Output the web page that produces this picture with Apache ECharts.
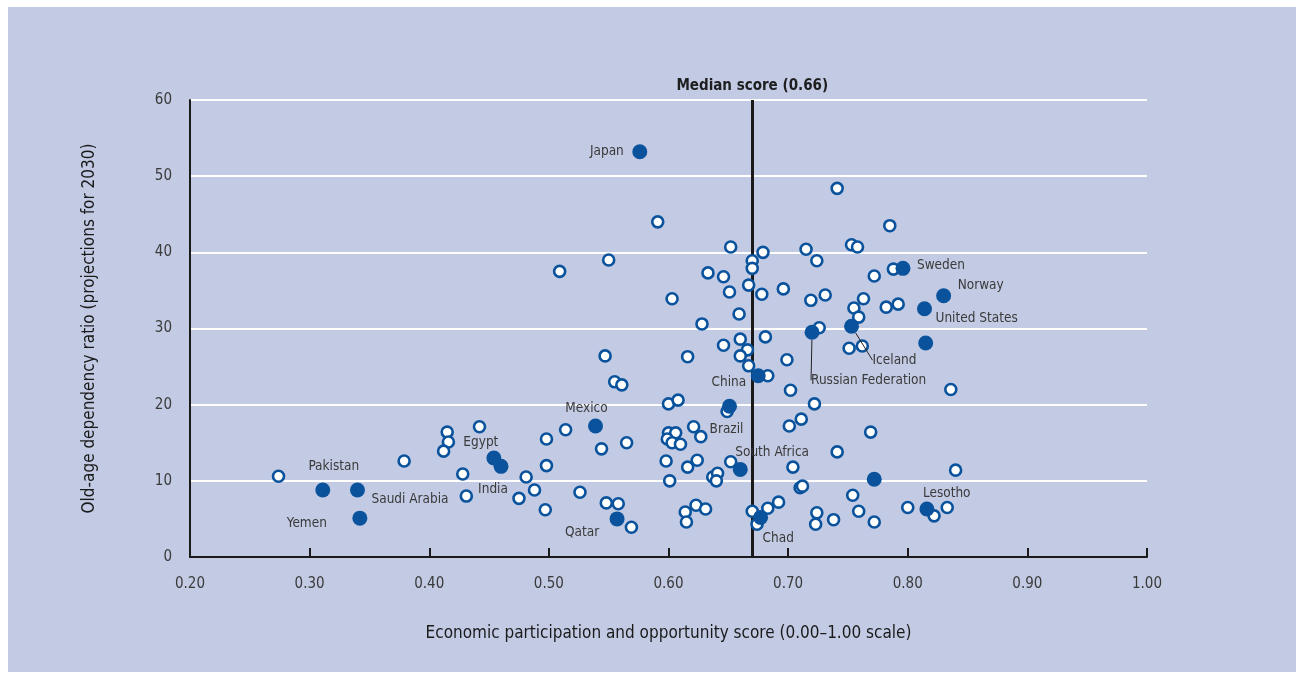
<!DOCTYPE html>
<html>
<head>
<meta charset="utf-8">
<script src="https://cdn.jsdelivr.net/npm/echarts@6/dist/echarts.min.js"></script>
<style>
html,body{margin:0;padding:0;background:#ffffff;}
#chart{width:1303px;height:673px;}
</style>
</head>
<body>
<div id="chart"></div>
<script>
// ---------- DATA ----------
const xTicks = [0.2, 0.3, 0.4, 0.5, 0.6, 0.7, 0.8, 0.9, 1.0];
const yTicks = [0, 10, 20, 30, 40, 50, 60];
const medianScore = 0.669;
const medianLabel = 'Median score (0.66)';
const xTitle = 'Economic participation and opportunity score (0.00\u20131.00 scale)';
const yTitle = 'Old-age dependency ratio (projections for 2030)';

// other countries (open circles): [score, ratio]
const otherX = [0.274,0.379,0.415,0.416,0.412,0.442,0.428,0.431,
  0.475,0.488,0.481,0.497,0.498,0.498,0.514,0.526,0.544,0.548,0.558,0.565,0.569,0.555,0.561,
  0.600,0.608,0.600,0.606,0.599,0.603,0.610,0.621,0.627,0.598,0.616,0.624,0.601,0.637,0.641,0.640,0.652,0.649,
  0.614,0.615,0.623,0.631,0.670,0.674,
  0.683,0.692,0.704,0.710,0.712,0.741,0.724,0.723,0.738,0.754,0.759,0.772,
  0.702,0.722,0.711,0.701,0.769,0.836,0.840,0.800,0.822,0.833,
  0.509,0.550,0.591,0.603,0.633,0.646,0.652,0.651,0.670,0.670,0.667,0.628,0.659,0.547,0.616,0.646,0.660,0.666,0.660,0.667,
  0.679,0.678,0.696,0.681,0.683,0.699,
  0.741,0.785,0.715,0.724,0.753,0.758,0.772,0.788,0.719,0.731,0.763,0.755,0.759,0.782,0.792,0.726,0.751,0.762];
const otherY = [10.6,12.6,16.4,15.1,13.9,17.1,10.9,8.0,
  7.7,8.8,10.5,6.2,12.0,15.5,16.7,8.5,14.2,7.1,7.0,15.0,3.9,23.0,22.6,
  20.1,20.6,16.3,16.3,15.5,15.0,14.8,17.1,15.8,12.6,11.8,12.7,10.0,10.5,11.0,10.0,12.5,19.1,
  5.9,4.6,6.8,6.3,6.0,4.3,
  6.4,7.2,11.8,9.1,9.3,13.8,5.8,4.3,4.9,8.1,6.0,4.6,
  21.9,20.1,18.1,17.2,16.4,22.0,11.4,6.5,5.4,6.5,
  37.5,39.0,44.0,33.9,37.3,36.8,40.7,34.8,38.9,37.9,35.7,30.6,31.9,26.4,26.3,27.8,28.6,27.2,26.4,25.1,
  40.0,34.5,35.2,28.9,23.8,25.9,
  48.4,43.5,40.4,38.9,41.0,40.7,36.9,37.8,33.7,34.4,33.9,32.7,31.5,32.8,33.2,30.1,27.4,27.7];

// highlighted countries (filled dots)
const hlNames = ['Japan','Sweden','Norway','United States','','Iceland','Russian Federation','China','Brazil','Mexico',
  'Egypt','India','Pakistan','Saudi Arabia','Yemen','Qatar','South Africa','Chad','Lesotho',''];
const hlX = [0.576,0.796,0.830,0.814,0.815,0.753,0.720,0.675,0.651,0.539,
  0.454,0.460,0.311,0.340,0.342,0.557,0.660,0.677,0.816,0.772];
const hlY = [53.2,37.9,34.3,32.6,28.1,30.3,29.5,23.8,19.8,17.2,
  13.0,11.9,8.8,8.8,5.1,5.0,11.5,5.2,6.3,10.2];

// ---------- STYLE ----------
const FONT = "'Liberation Sans Narrow','DejaVu Sans Condensed','Liberation Sans',sans-serif";
const BLUE = '#0a539c';
const TEXT = '#3a3a3a';
// label placement [dx, dy, align]
const labelPlace = {
  'Japan': [-16, 0, 'right'],
  'Sweden': [14, -3, 'left'],
  'Norway': [14, -10, 'left'],
  'United States': [11, 10, 'left'],
  'Iceland': [21, 34, 'left'],
  'Russian Federation': [-1, 48, 'left'],
  'China': [-12, 7, 'right'],
  'Brazil': [-3, 23, 'center'],
  'Mexico': [-9, -17, 'center'],
  'Egypt': [-13, -15, 'center'],
  'India': [-8, 23, 'center'],
  'Pakistan': [11, -23, 'center'],
  'Saudi Arabia': [14, 10, 'left'],
  'Yemen': [-33, 5, 'right'],
  'Qatar': [-35, 14, 'center'],
  'South Africa': [-5, -17, 'left'],
  'Chad': [2, 21, 'left'],
  'Lesotho': [-4, -16, 'left']
};
const leaderNames = ['Iceland', 'Russian Federation'];

const otherData = otherX.map((x, i) => [x, otherY[i]]);
const hlData = hlNames.map((n, i) => ({
  name: n,
  value: [hlX[i], hlY[i]],
  label: { show: n !== '' },
  labelLine: { show: leaderNames.includes(n), lineStyle: { color: '#222', width: 1 } }
}));

const chart = echarts.init(document.getElementById('chart'), null, { renderer: 'canvas' });
chart.setOption({
  backgroundColor: '#ffffff',
  animation: false,
  textStyle: { fontFamily: FONT },
  graphic: [{
    type: 'rect', z: -10, silent: true,
    shape: { x: 8, y: 7, width: 1288, height: 665 },
    style: { fill: '#c3cbe4' }
  }],
  grid: { left: 190, top: 100, right: 156, bottom: 116, containLabel: false },
  xAxis: {
    type: 'value', min: xTicks[0], max: xTicks[xTicks.length - 1], interval: 0.1,
    name: xTitle, nameLocation: 'middle', nameGap: 68,
    nameTextStyle: { fontFamily: FONT, fontSize: 17, color: '#1a1a1a' },
    axisLine: { show: true, onZero: false, lineStyle: { color: '#1a1a1a', width: 2 } },
    axisTick: { show: true, inside: true, length: 9, lineStyle: { color: '#1a1a1a', width: 2 } },
    axisLabel: { margin: 20, fontFamily: FONT, fontSize: 15, color: TEXT, formatter: v => v.toFixed(2) },
    splitLine: { show: false }
  },
  yAxis: {
    type: 'value', min: yTicks[0], max: yTicks[yTicks.length - 1], interval: 10,
    name: yTitle, nameLocation: 'middle', nameGap: 92, nameRotate: 90,
    nameTextStyle: { fontFamily: FONT, fontSize: 17, color: '#1a1a1a' },
    axisLine: { show: true, onZero: false, lineStyle: { color: '#1a1a1a', width: 2 } },
    axisTick: { show: false },
    axisLabel: { margin: 18, fontFamily: FONT, fontSize: 15, color: TEXT },
    splitLine: { show: true, lineStyle: { color: '#ffffff', width: 2 } }
  },
  series: [
    {
      type: 'scatter', name: 'others', z: 3,
      symbol: 'circle', symbolSize: 11,
      itemStyle: { color: '#ffffff', borderColor: BLUE, borderWidth: 2.6, opacity: 1 },
      data: otherData,
      markLine: {
        silent: true, symbol: 'none', z: 2,
        lineStyle: { color: '#1a1a1a', width: 3, type: 'solid', opacity: 1 },
        label: { show: true, position: 'end', formatter: medianLabel, fontFamily: FONT, fontSize: 15, fontWeight: 'bold', color: '#1e1e1e', distance: 6 },
        data: [{ xAxis: medianScore }]
      }
    },
    {
      type: 'scatter', name: 'highlighted', z: 4,
      symbol: 'circle', symbolSize: 15,
      itemStyle: { color: BLUE, opacity: 1 },
      label: { show: true, position: 'inside', formatter: '{b}', fontFamily: FONT, fontSize: 13.5, color: TEXT },
      labelLayout: function (p) {
        const n = hlNames[p.dataIndex];
        const o = labelPlace[n];
        if (!o) return {};
        return { dx: o[0], dy: o[1], align: o[2], verticalAlign: 'middle' };
      },
      data: hlData
    }
  ]
});
</script>
</body>
</html>
